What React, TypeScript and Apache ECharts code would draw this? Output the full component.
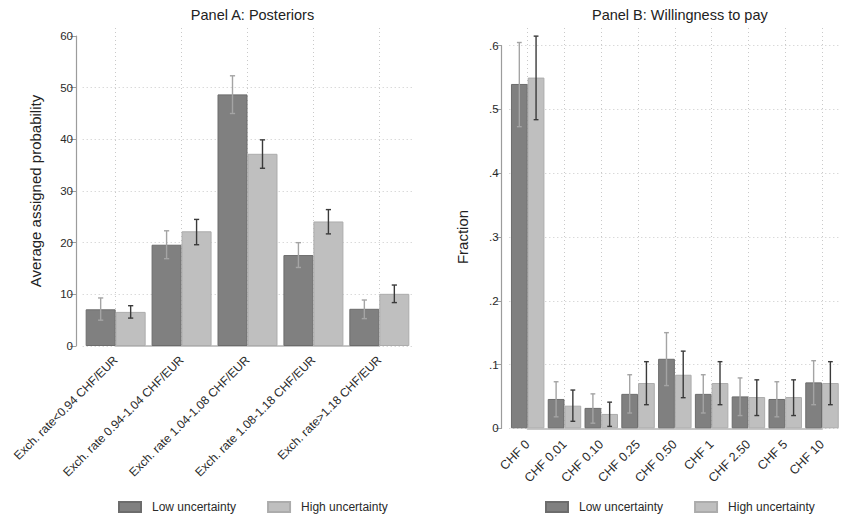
import React, { useEffect, useRef } from "react";
import * as echarts from "echarts";

// ---------- Data ----------
const catsA = [
  "Exch. rate<0.94 CHF/EUR",
  "Exch. rate 0.94-1.04 CHF/EUR",
  "Exch. rate 1.04-1.08 CHF/EUR",
  "Exch. rate 1.08-1.18 CHF/EUR",
  "Exch. rate>1.18 CHF/EUR",
];
const lowA = [7.1, 19.6, 48.7, 17.6, 7.2];
const lowALo = [5.0, 16.9, 45.0, 15.2, 5.3];
const lowAHi = [9.3, 22.3, 52.3, 20.0, 8.9];
const highA = [6.6, 22.2, 37.2, 24.1, 10.1];
const highALo = [5.4, 19.6, 34.4, 21.7, 8.4];
const highAHi = [7.8, 24.5, 39.9, 26.4, 11.8];

const catsB = ["CHF 0", "CHF 0.01", "CHF 0.10", "CHF 0.25", "CHF 0.50", "CHF 1", "CHF 2.50", "CHF 5", "CHF 10"];
const lowB = [0.54, 0.046, 0.032, 0.054, 0.109, 0.054, 0.05, 0.046, 0.072];
const lowBLo = [0.473, 0.018, 0.008, 0.024, 0.067, 0.024, 0.02, 0.018, 0.037];
const lowBHi = [0.605, 0.073, 0.054, 0.084, 0.15, 0.084, 0.079, 0.073, 0.106];
const highB = [0.55, 0.0355, 0.0225, 0.071, 0.084, 0.071, 0.049, 0.049, 0.071];
const highBLo = [0.484, 0.011, 0.003, 0.037, 0.048, 0.037, 0.02, 0.02, 0.037];
const highBHi = [0.615, 0.06, 0.041, 0.1045, 0.121, 0.1045, 0.076, 0.076, 0.1045];

const seriesNames = ["Low uncertainty", "High uncertainty"];

// ---------- Style ----------
const FONT = "'Liberation Sans', Arial, sans-serif";
const LOW_FILL = "#808080";
const LOW_EDGE = "#6c6c6c";
const HIGH_FILL = "#bfbfbf";
const HIGH_EDGE = "#acacac";
const LOW_ERR = "#a4a4a4";
const HIGH_ERR = "#3a3a3a";
const GAP = 0.09;
const W = 843;
const H = 519;

const A = { left: 82.7, right: 412.3, top: 36, bottom: 346, n: catsA.length };
const B = { left: 509.3, right: 840.4, top: 45.7, bottom: 428.3, n: catsB.length };
const GRID_TOP = 28;

function errSeries(name: string, xi: number, yi: number, lo: number[], hi: number[], side: number, color: string, cap: number) {
  return {
    type: "custom",
    name: name + " ci",
    xAxisIndex: xi,
    yAxisIndex: yi,
    silent: true,
    z: 5,
    data: lo.map((l, i) => [i, l, hi[i]]),
    encode: { x: 0, y: [1, 2] },
    renderItem: (params: any, api: any) => {
      const i = api.value(0);
      const band = api.size([1, 0])[0];
      const bw = (band * (1 - GAP)) / 2;
      const cx = api.coord([i, 0])[0] + (side * bw) / 2;
      const yLo = api.coord([i, api.value(1)])[1];
      const yHi = api.coord([i, api.value(2)])[1];
      const st = { stroke: color, lineWidth: 1.4 };
      return {
        type: "group",
        children: [
          { type: "line", shape: { x1: cx, y1: yLo, x2: cx, y2: yHi }, style: st },
          { type: "line", shape: { x1: cx - cap, y1: yLo, x2: cx + cap, y2: yLo }, style: st },
          { type: "line", shape: { x1: cx - cap, y1: yHi, x2: cx + cap, y2: yHi }, style: st },
        ],
      };
    },
  };
}

const dotted = { show: true, lineStyle: { color: "#c9c9c9", type: [1, 3], width: 1 } };

function mainX(grid: number, cats: string[]) {
  return {
    type: "category",
    gridIndex: grid,
    data: cats,
    axisLine: { show: false },
    axisTick: { show: false },
    axisLabel: { show: false },
    splitLine: { show: false },
  };
}

function overlayX(grid: number, cats: string[], margin: number, fs: number) {
  return {
    type: "category",
    gridIndex: grid,
    data: cats,
    boundaryGap: false,
    offset: 9,
    axisLine: { show: true, lineStyle: { color: "#c6c6c6", width: 2 } },
    axisTick: { show: false },
    axisLabel: { show: true, rotate: 45, interval: 0, margin, fontSize: fs, color: "#2a2a2a", fontFamily: FONT },
    splitLine: { ...dotted, interval: 0 },
  };
}

function legendAt(left: number) {
  return {
    left,
    top: 496,
    itemWidth: 22,
    itemHeight: 10,
    itemGap: 31,
    icon: "rect",
    data: seriesNames,
    selectedMode: false,
    textStyle: { fontSize: 12, color: "#2a2a2a", fontFamily: FONT, padding: [0, 0, 0, 6] },
  };
}

export default function App() {
  const ref = useRef<HTMLDivElement>(null);
  useEffect(() => {
    if (!ref.current) return;
    const chart = echarts.init(ref.current, undefined, { renderer: "svg" });
    const axisGray = "#9c9c9c";
    const titleStyle = { fontSize: 14.5, fontWeight: "normal", color: "#222", fontFamily: FONT };
    const nameStyle = { fontSize: 15, color: "#222", fontFamily: FONT };
    const option: any = {
      animation: false,
      backgroundColor: "#ffffff",
      textStyle: { fontFamily: FONT },
      title: [
        { text: "Panel A: Posteriors", left: (A.left + A.right) / 2, top: 2, textAlign: "center", textStyle: titleStyle },
        { text: "Panel B: Willingness to pay", left: (B.left + B.right) / 2, top: 2, textAlign: "center", textStyle: titleStyle },
      ],
      legend: [legendAt(113), legendAt(540)],
      grid: [
        { left: A.left, width: A.right - A.left, top: A.top, height: A.bottom - A.top },
        {
          left: A.left + (A.right - A.left) / A.n / 2,
          width: ((A.right - A.left) * (A.n - 1)) / A.n,
          top: GRID_TOP,
          height: A.bottom - GRID_TOP,
        },
        { left: B.left, width: B.right - B.left, top: B.top, height: B.bottom - B.top },
        {
          left: B.left + (B.right - B.left) / B.n / 2,
          width: ((B.right - B.left) * (B.n - 1)) / B.n,
          top: GRID_TOP,
          height: B.bottom - GRID_TOP,
        },
      ],
      xAxis: [mainX(0, catsA), overlayX(1, catsA, 3, 12), mainX(2, catsB), overlayX(3, catsB, 5, 12.5)],
      yAxis: [
        {
          type: "value",
          gridIndex: 0,
          min: 0,
          max: 60,
          interval: 10,
          offset: 6.7,
          name: "Average assigned probability",
          nameLocation: "middle",
          nameGap: 33.5,
          nameTextStyle: nameStyle,
          axisLine: { show: true, lineStyle: { color: axisGray, width: 1.2 } },
          axisTick: { show: true, length: 6, lineStyle: { color: axisGray } },
          axisLabel: { fontSize: 11.5, color: "#2a2a2a", margin: 3, fontFamily: FONT },
          splitLine: { ...dotted, showMaxLine: false },
        },
        { type: "value", gridIndex: 1, show: false, splitLine: { show: false } },
        {
          type: "value",
          gridIndex: 2,
          min: 0,
          max: 0.6,
          interval: 0.1,
          offset: 7.6,
          name: "Fraction",
          nameLocation: "middle",
          nameGap: 32,
          nameTextStyle: nameStyle,
          axisLine: { show: true, lineStyle: { color: axisGray, width: 1.2 } },
          axisTick: { show: true, length: 6, lineStyle: { color: axisGray } },
          axisLabel: {
            fontSize: 11.5,
            color: "#2a2a2a",
            margin: 3,
            fontFamily: FONT,
            formatter: (v: number) => (v === 0 ? "0" : String(Math.round(v * 10) / 10).replace(/^0/, "")),
          },
          splitLine: { ...dotted },
        },
        { type: "value", gridIndex: 3, show: false, splitLine: { show: false } },
      ],
      series: [
        {
          type: "bar",
          name: seriesNames[0],
          xAxisIndex: 0,
          yAxisIndex: 0,
          data: lowA,
          barGap: "0%",
          barCategoryGap: GAP * 100 + "%",
          itemStyle: { color: LOW_FILL, borderColor: LOW_EDGE, borderWidth: 1 },
        },
        {
          type: "bar",
          name: seriesNames[1],
          xAxisIndex: 0,
          yAxisIndex: 0,
          data: highA,
          barGap: "0%",
          barCategoryGap: GAP * 100 + "%",
          itemStyle: { color: HIGH_FILL, borderColor: HIGH_EDGE, borderWidth: 1 },
        },
        {
          type: "bar",
          name: seriesNames[0],
          xAxisIndex: 2,
          yAxisIndex: 2,
          data: lowB,
          barGap: "0%",
          barCategoryGap: GAP * 100 + "%",
          itemStyle: { color: LOW_FILL, borderColor: LOW_EDGE, borderWidth: 1 },
        },
        {
          type: "bar",
          name: seriesNames[1],
          xAxisIndex: 2,
          yAxisIndex: 2,
          data: highB,
          barGap: "0%",
          barCategoryGap: GAP * 100 + "%",
          itemStyle: { color: HIGH_FILL, borderColor: HIGH_EDGE, borderWidth: 1 },
        },
        errSeries(seriesNames[0], 0, 0, lowALo, lowAHi, -1, LOW_ERR, 2.6),
        errSeries(seriesNames[1], 0, 0, highALo, highAHi, 1, HIGH_ERR, 2.6),
        errSeries(seriesNames[0], 2, 2, lowBLo, lowBHi, -1, LOW_ERR, 2.4),
        errSeries(seriesNames[1], 2, 2, highBLo, highBHi, 1, HIGH_ERR, 2.4),
      ],
    };
    chart.setOption(option);
    return () => chart.dispose();
  }, []);
  return (
    <div
      ref={ref}
      style={{ position: "fixed", left: 0, top: 0, width: W, height: H, background: "#fff" }}
    />
  );
}
